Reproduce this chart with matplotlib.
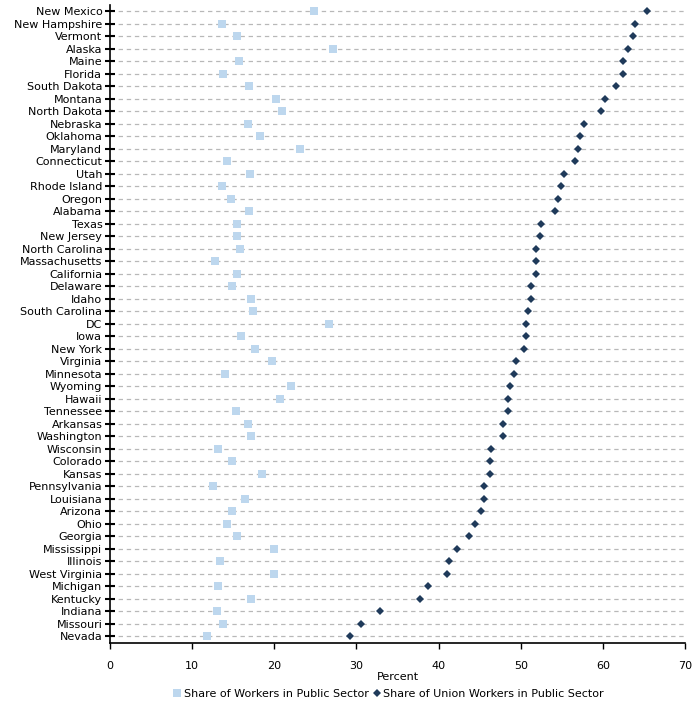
import matplotlib
matplotlib.use("Agg")
import matplotlib.pyplot as plt
import numpy as np

STATES = [
    "New Mexico", "New Hampshire", "Vermont", "Alaska", "Maine", "Florida",
    "South Dakota", "Montana", "North Dakota", "Nebraska", "Oklahoma", "Maryland",
    "Connecticut", "Utah", "Rhode Island", "Oregon", "Alabama", "Texas",
    "New Jersey", "North Carolina", "Massachusetts", "California", "Delaware",
    "Idaho", "South Carolina", "DC", "Iowa", "New York", "Virginia", "Minnesota",
    "Wyoming", "Hawaii", "Tennessee", "Arkansas", "Washington", "Wisconsin",
    "Colorado", "Kansas", "Pennsylvania", "Louisiana", "Arizona", "Ohio",
    "Georgia", "Mississippi", "Illinois", "West Virginia", "Michigan", "Kentucky",
    "Indiana", "Missouri", "Nevada",
]

PUBLIC_SHARE = [
    24.8, 13.6, 15.5, 27.1, 15.7, 13.8,
    16.9, 20.2, 20.9, 16.8, 18.3, 23.1,
    14.3, 17.1, 13.6, 14.7, 16.9, 15.5,
    15.4, 15.8, 12.8, 15.5, 14.9,
    17.2, 17.4, 26.7, 15.9, 17.7, 19.7, 14.0,
    22.0, 20.7, 15.3, 16.8, 17.2, 13.1,
    14.8, 18.5, 12.5, 16.4, 14.8, 14.2,
    15.5, 20.0, 13.4, 20.0, 13.2, 17.2,
    13.0, 13.8, 11.8,
]

UNION_PUBLIC_SHARE = [
    65.4, 63.9, 63.7, 63.0, 62.5, 62.5,
    61.6, 60.2, 59.8, 57.7, 57.2, 57.0,
    56.6, 55.3, 54.9, 54.5, 54.2, 52.5,
    52.4, 51.9, 51.8, 51.8, 51.3,
    51.2, 50.9, 50.7, 50.6, 50.4, 49.4, 49.2,
    48.7, 48.4, 48.4, 47.9, 47.9, 46.4,
    46.3, 46.2, 45.5, 45.5, 45.2, 44.4,
    43.7, 42.2, 41.3, 41.0, 38.7, 37.7,
    32.9, 30.6, 29.2,
]

X_TICKS = [0, 10, 20, 30, 40, 50, 60, 70]

LIGHT = "#bdd7ee"
DARK = "#1f3a5a"

plt.rcParams.update({"font.family": "DejaVu Sans", "font.size": 8})

fig = plt.figure(figsize=(7.0, 7.05), dpi=100)
ax = fig.add_axes([110 / 700, (705 - 642.5) / 705, 575 / 700, 637.75 / 705])

y = np.arange(len(STATES))
for yi in y:
    ax.axhline(yi, color="#b8b8b8", linestyle=(0, (3.5, 3)), linewidth=0.9, zorder=0)

ax.plot(PUBLIC_SHARE, y, linestyle="none", marker="s", markersize=5.5,
        color=LIGHT, markeredgewidth=0, label="Share of Workers in Public Sector", zorder=2)
ax.plot(UNION_PUBLIC_SHARE, y, linestyle="none", marker="D", markersize=4.3,
        color=DARK, markeredgewidth=0, label="Share of Union Workers in Public Sector", zorder=3)

ax.set_xlim(0, 70)
ax.set_ylim(len(STATES) - 0.5, -0.5)
ax.set_yticks(y)
ax.set_yticklabels(STATES)
ax.set_xticks(X_TICKS)
ax.tick_params(axis="y", direction="inout", length=7, width=1.5, pad=2)
ax.tick_params(axis="x", direction="out", length=4, width=1, pad=9)

for side in ("top", "right"):
    ax.spines[side].set_visible(False)
ax.spines["left"].set_linewidth(1.2)
ax.spines["bottom"].set_linewidth(1.2)

ax.set_xlabel("Percent", labelpad=1)

ax.legend(loc="upper center", bbox_to_anchor=(0.485, -0.064), ncol=2, frameon=False,
          handlelength=0.6, handletextpad=0.3, columnspacing=0.4, borderpad=0,
          fontsize=8)

fig.savefig("out.png", dpi=100)
